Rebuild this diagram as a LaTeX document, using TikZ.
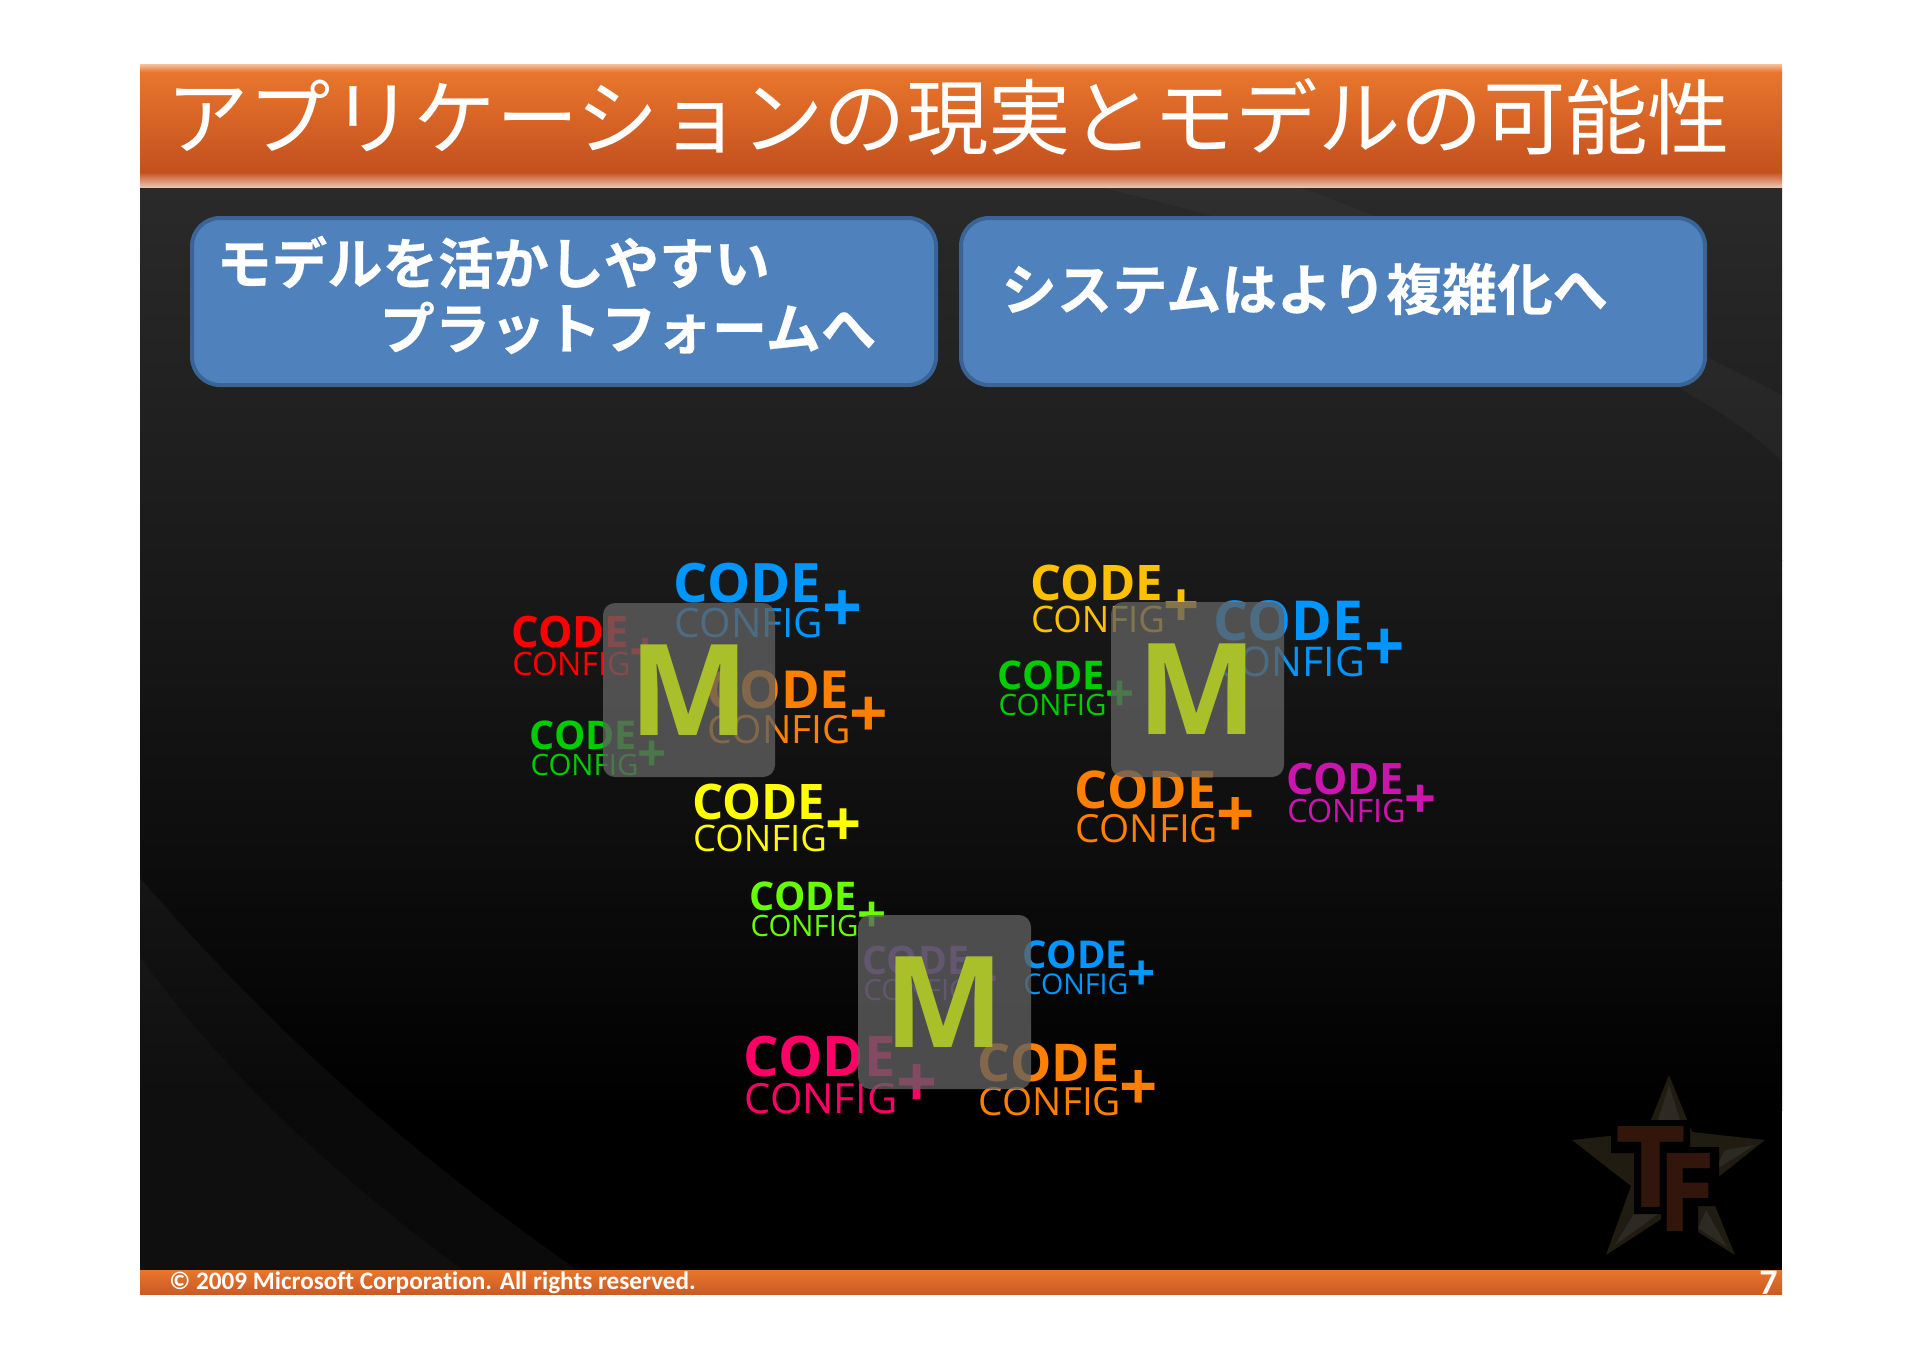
\documentclass[tikz,border=0pt]{standalone}
\usepackage{fontspec}
\usepackage{graphicx}
\setmainfont{Open Sans}
\newfontfamily\jpf[BoldFont=Noto Sans CJK JP Bold,BoldFeatures={FakeBold=0.5}]{Noto Sans CJK JP}
\newfontfamily\carl[Ligatures=CommonOff]{Carlito}
\newfontfamily\heavy{DejaVu Sans}
\definecolor{blu}{HTML}{0096FF}
\definecolor{orng}{HTML}{FF8000}
\definecolor{grn}{HTML}{00CC00}
\definecolor{lime}{HTML}{66FF00}
\definecolor{gold}{HTML}{FFC000}
\definecolor{magn}{HTML}{CC14AF}
\definecolor{pnk}{HTML}{FF0066}
\definecolor{purp}{HTML}{7030A0}
\definecolor{yel}{HTML}{FFFF00}
\definecolor{red0}{HTML}{FF0000}
\definecolor{mgreen}{HTML}{AAC02A}
\definecolor{boxblue}{HTML}{4F81BD}
\definecolor{boxedge}{HTML}{3A6496}
\definecolor{hdA}{HTML}{E8762C}
\definecolor{hdB}{HTML}{C4501E}
\definecolor{ftA}{HTML}{E8762C}
\definecolor{ftB}{HTML}{CC5A24}
\definecolor{bgA}{RGB}{42,42,42}
\definecolor{bgB}{RGB}{26,26,26}
\definecolor{bgC}{RGB}{12,12,12}
\definecolor{starfill}{RGB}{32,28,18}
\definecolor{starfacet}{RGB}{44,42,34}
\definecolor{tfred}{RGB}{50,22,12}
\tikzset{
  mbox/.style={fill=black!62,fill opacity=.78,rounded corners=6},
  mletter/.style={text=mgreen,inner sep=0,font=\bfseries\fontsize{63.5}{64}\selectfont},
  bluebox/.style={fill=boxblue,draw=boxedge,line width=2pt,rounded corners=14},
  headline/.style={text=white,inner sep=0,anchor=base west,font=\jpf\bfseries\fontsize{27.7}{30}\selectfont},
  txt/.style={inner sep=0,anchor=base west},
  facet/.style={fill=starfacet},
  tfletter/.style={inner sep=0,text=tfred},
}
% #1 name, #2 left x, #3 cap top y, #4 width W, #5 colour
\newcommand{\codeblock}[5]{%
  \pgfmathsetmacro{\codesz}{0.190*#4}%
  \pgfmathsetmacro{\confsz}{0.1415*#4}%
  \pgfmathsetmacro{\plussz}{0.245*#4}%
  \node[txt,text=#5,font=\bfseries\fontsize{\codesz}{\codesz}\selectfont] (#1a) at (#2-0.025*#4,#3+0.266*#4) {CODE};
  \node[txt,text=#5,font=\fontsize{\confsz}{\confsz}\selectfont] (#1b) at (#2-0.018*#4,#3+0.517*#4) {CONFIG};
  \node[inner sep=0,text=#5,font=\bfseries\fontsize{\plussz}{\plussz}\selectfont] (#1c) at (#2+1.154*#4,#3+0.332*#4) {+};
}
\begin{document}
\begin{tikzpicture}[x=0.5pt,y=-0.5pt]
\useasboundingbox (0,0) rectangle (1920,1357);
\fill[white] (0,0) rectangle (1920,1357);
% slide background
\shade[top color=bgA,bottom color=bgB] (140,187) rectangle (1782,560);
\shade[top color=bgB,bottom color=bgC] (140,560) rectangle (1782,880);
\shade[top color=bgC,bottom color=black] (140,880) rectangle (1782,1110);
\fill[black] (140,1110) rectangle (1782,1270);
% swooshes
\fill[white,opacity=.028] (1300,187) .. controls (1360,212) and (1560,280) .. (1782,395) -- (1782,461) .. controls (1680,360) and (1400,260) .. (1100,187) -- cycle;
\fill[white,opacity=.04] (140,878) .. controls (280,1040) and (420,1160) .. (577,1270) -- (140,1270) -- cycle;
\fill[white,opacity=.025] (140,957) .. controls (230,1080) and (340,1180) .. (463,1270) -- (140,1270) -- cycle;
% header
\shade[top color=hdA,bottom color=hdB] (140,72) rectangle (1782,172);
\shade[top color=hdA!45!white,bottom color=hdA] (140,64) rectangle (1782,72);
\shade[top color=hdB,bottom color=hdB!35!white] (140,172) rectangle (1782,187);
\node[txt,text=white,font=\jpf\fontsize{41.2}{41}\selectfont] (title) at (166,148) {アプリケーションの現実とモデルの可能性};
% footer
\shade[top color=ftA,bottom color=ftB] (140,1270) rectangle (1782,1294);
\node[txt,text=white,font=\carl\bfseries\fontsize{12.6}{14}\selectfont] (copy) at (169,1289) {© 2009 Microsoft Corporation. All rights reserved.};
\node[inner sep=0,anchor=base east,text=white,font=\carl\bfseries\fontsize{18}{18}\selectfont] (pagenum) at (1778,1294) {7};
% watermark
\fill[starfill] (1669,1075) -- (1692,1132) -- (1765,1140) -- (1707,1186) -- (1735,1255) -- (1669,1214) -- (1606,1255) -- (1631,1186) -- (1572,1140) -- (1646,1132) -- cycle;
\fill[facet] (1669,1085) -- (1658,1120) -- (1680,1120) -- cycle;
\fill[facet] (1725,1150) -- (1755,1145) -- (1715,1170) -- cycle;
\fill[facet] (1615,1245) -- (1658,1214) -- (1642,1200) -- cycle;
\fill[facet] (1706,1210) -- (1727,1247) -- (1698,1228) -- cycle;
\fill[black] (1611,1120) -- (1690,1120) -- (1690,1147) -- (1719,1147) -- (1719,1206) -- (1698,1206) -- (1698,1237) -- (1661,1237) -- (1661,1214) -- (1634,1214) -- (1634,1153) -- (1611,1153) -- cycle;
\node[tfletter] (tfT) at (1650.5,1166.5) {\resizebox{33.5pt}{40.5pt}{\heavy\bfseries T}};
\node[tfletter] (tfF) at (1688.5,1192) {\resizebox{29pt}{39pt}{\heavy\bfseries F}};
% blue boxes
\draw[bluebox] (192,218) rectangle (936,385);
\draw[bluebox] (961,218) rectangle (1705,385);
\node[headline] (h1) at (216,284) {モデルを活かしやすい};
\node[headline] (h2) at (379,349) {プラットフォームへ};
\node[headline] (h3) at (1001,310) {システムはより複雑化へ};
% code blocks
\codeblock{a1}{677}{564}{143}{blu}
\codeblock{a2}{514}{617}{114}{red0}
\codeblock{a3}{710}{672}{138}{orng}
\codeblock{a4}{532}{722}{104}{grn}
\codeblock{a5}{695}{785}{129}{yel}
\codeblock{b1}{1033}{566}{129}{gold}
\codeblock{b2}{1217}{602}{145}{blu}
\codeblock{b3}{1000}{662}{104}{grn}
\codeblock{b4}{1078}{772}{137}{orng}
\codeblock{b5}{1289}{764}{114}{magn}
\codeblock{c1}{752}{883}{104}{lime}
\codeblock{c2}{1025}{942}{101}{blu}
\codeblock{c3}{747}{1037}{147}{pnk}
\codeblock{c4}{981}{1045}{137}{orng}
\codeblock{c5}{865}{947}{103}{purp}
% model boxes
\fill[mbox] (603,603) rectangle (775,777);
\fill[mbox] (1111,602) rectangle (1284,777);
\fill[mbox] (858,915) rectangle (1031,1089);
\node[mletter,anchor=base] (m1) at (689,735) {M};
\node[mletter,anchor=base] (m2) at (1197,734) {M};
\node[mletter,anchor=base] (m3) at (944,1047) {M};
\end{tikzpicture}
\end{document}
